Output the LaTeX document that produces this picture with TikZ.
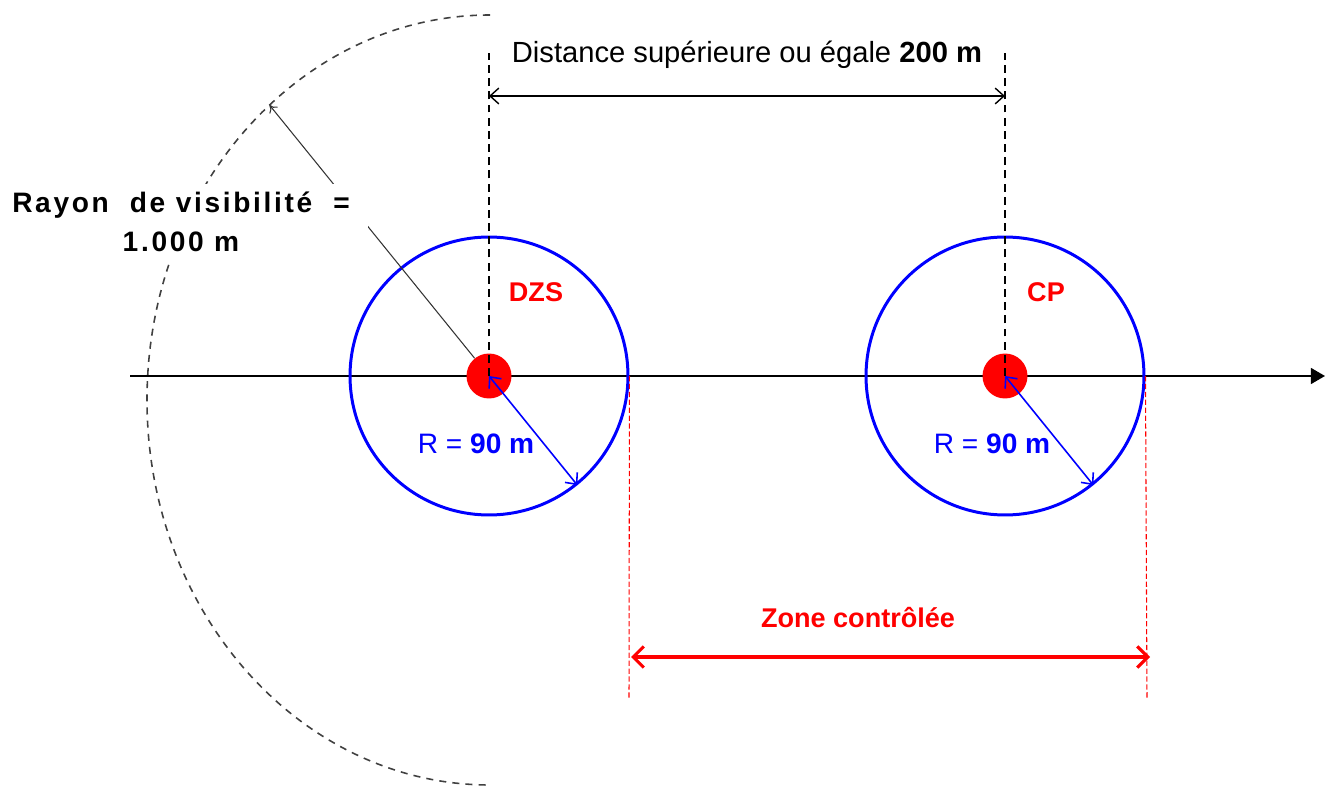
\documentclass[tikz,border=0pt]{standalone}
\usepackage{fontspec}
\setmainfont{Liberation Sans}
\usetikzlibrary{arrows.meta, positioning, calc}

\begin{document}
\begin{tikzpicture}[
    x=0.02cm, y=0.02cm,
    >={Straight Barb[length=5pt, width=9pt]},
    axe/.style={line width=1.1pt, -{Triangle[length=8pt, width=9pt]}},
    zone/.style={circle, draw=blue, line width=1.7pt, minimum size=5.56cm, inner sep=0},
    dot/.style={circle, fill=red, minimum size=0.9cm, inner sep=0},
    guide/.style={line width=1.1pt, dash pattern=on 4.5pt off 3pt},
    dim/.style={<->, line width=0.8pt},
    rayon/.style={<->, blue, line width=0.9pt},
    lim/.style={red, line width=0.6pt, dash pattern=on 3pt off 1.5pt},
    ctrl/.style={<->, red, line width=1.8pt, >={Straight Barb[length=6pt, width=12pt]}},
    vis/.style={black!75, line width=0.9pt, dash pattern=on 4pt off 3.5pt},
    lbl/.style={font=\fontsize{16}{19}\selectfont, inner sep=0, anchor=base},
    bold/.style={lbl, red, font=\fontsize{15.4}{19}\selectfont\bfseries}
  ]
  \useasboundingbox (0,0) rectangle (1325,785);

  % Coordinates
  \coordinate (visC) at (490,385);
  \coordinate (visP) at ($(visC)+(130:343 and 385)$);
  \coordinate (axisL) at (130,409);
  \coordinate (axisR) at (1325,409);
  \coordinate (dzsTop) at (489,732);
  \coordinate (cpTop) at (1005,732);
  \coordinate (dimL) at (489,689);
  \coordinate (dimR) at (1005,689);

  % Visibility radius (dashed half ellipse)
  \draw[vis] (490,770) arc[start angle=90, end angle=270, x radius=343, y radius=385];

  % Axis
  \draw[axe] (axisL) -- (axisR);

  % Zones and points
  \node[zone] (dzsZ) at (489,409) {};
  \node[zone] (cpZ) at (1005,409) {};
  \node[dot] (dzs) at (489,409) {};
  \node[dot] (cp) at (1005,409) {};

  % Vertical guides
  \draw[guide] (dzs.center) -- (dzsTop);
  \draw[guide] (cp.center) -- (cpTop);

  % R = 90 m
  \draw[rayon] (dzs.center) -- (dzsZ.-51);
  \draw[rayon] (cp.center) -- (cpZ.-51);
  \node[lbl, blue] (dzsR) at (476,332) {R = \textbf{90 m}};
  \node[lbl, blue] (cpR) at (992,332) {R = \textbf{90 m}};
  \node[bold] (dzsT) at (536,483) {DZS};
  \node[bold] (cpT) at (1046,483) {CP};

  % Visibility radius label
  \draw[black!80, line width=0.6pt, -{To[length=4pt, width=6pt]}] (dzs) -- (visP);
  \node[fill=white, minimum width=7.5cm, minimum height=1.54cm, align=center,
    font=\fontsize{16}{22.2}\selectfont\bfseries] (visT) at (181,563)
  {\addfontfeature{LetterSpace=9.5}Rayon\ \ de visibilité\ \ =\\
   \addfontfeature{LetterSpace=9.5}1.000\ m};

  % Distance between points
  \draw[dim] (dimL) -- (dimR);
  \node[lbl, font=\fontsize{16.6}{19}\selectfont] (dimT) at (747,722)
  {Distance supérieure ou égale \textbf{200 m}};

  % Controlled zone
  \coordinate (ctrlL) at (629,85);
  \coordinate (ctrlR) at (1147,85);
  \draw[lim] (dzsZ.east) -- (ctrlL);
  \draw[lim] (cpZ.east) -- (ctrlR);
  \draw[ctrl] ($(ctrlL)+(2,43)$) -- ($(ctrlR)+(3,43)$);
  \node[bold] (ctrlT) at (858,158) {Zone contrôlée};
\end{tikzpicture}
\end{document}
